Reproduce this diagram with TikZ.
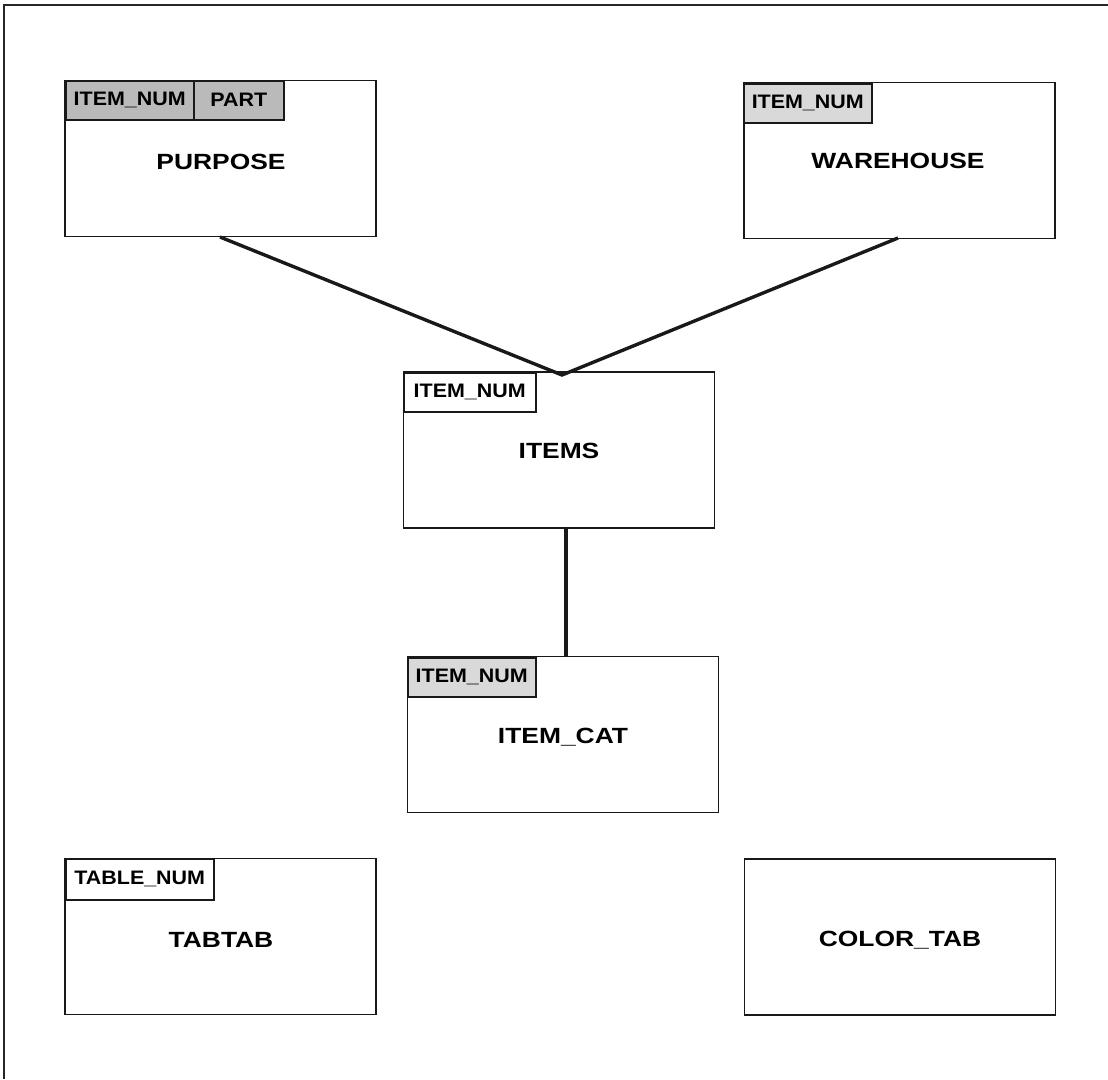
\documentclass[tikz,border=0pt]{standalone}
\usepackage{fontspec}
\setmainfont{Liberation Sans}
\begin{document}
\begin{tikzpicture}[x=1pt,y=-1pt,
  tablebox/.style={draw=black!90, line width=1.8pt, fill=white, rectangle, inner sep=0pt,
    minimum width=#1, minimum height=156pt},
  tablebox/.default=311pt,
  tname/.style={font=\bfseries\fontsize{22}{25}\selectfont, xscale=1.2},
  keycell/.style={draw=black!90, line width=1.5pt, rectangle, inner sep=0pt,
    minimum height=39pt, anchor=north west},
  keytext/.style={font=\bfseries\fontsize{19.5}{22}\selectfont, xscale=1.1},
  link/.style={line width=3.4pt, black!90}]
\useasboundingbox (0,0) rectangle (1108,1079);
% frame
\draw[line width=1.5pt, black!85] (4,1079) -- (4,5) -- (1108,5);

% junction of the two upper links
\coordinate (join) at (562,375);

% tables
\node[tablebox] (purpose) at (220.5,158.5) {};
\node[tablebox] (warehouse) at (899.5,160.5) {};
\node[tablebox] (items) at (559,450) {};
\node[tablebox] (itemcat) at (563,734.5) {};
\node[tablebox] (tabtab) at (220.5,936.5) {};
\node[tablebox] (colortab) at (900,937) {};

% links
\draw[link] (220,237) -- (join) -- (898,238);
\draw[link] (566,528) -- (566,657);

\node[tname] (purposelbl) at (221,162) {PURPOSE};
\node[tname] (warehouselbl) at (898,161) {WAREHOUSE};
\node[tname] (itemslbl) at (559,451) {ITEMS};
\node[tname] (itemcatlbl) at (563,737) {ITEM\_CAT};
\node[tname] (tabtablbl) at (221,940) {TABTAB};
\node[tname] (colortablbl) at (900,940) {COLOR\_TAB};

% key column headers
\node[keycell, fill=black!27, minimum width=128pt] (pk1) at (65,80) {};
\node[keycell, fill=black!27, minimum width=90pt] (pk2) at (193,80) {};
\node[keytext] at (pk1.center) {ITEM\_NUM};
\node[keytext] at (pk2.center) {PART};

\node[keycell, fill=black!15, minimum width=128pt] (wk) at (743,83) {};
\node[keytext] at (wk.center) {ITEM\_NUM};

\node[keycell, fill=white, minimum width=132pt] (ik) at (403,372) {};
\node[keytext] at (ik.center) {ITEM\_NUM};

\node[keycell, fill=black!15, minimum width=128pt] (ck) at (407,657) {};
\node[keytext] at (ck.center) {ITEM\_NUM};

\node[keycell, fill=white, minimum width=148pt, minimum height=41pt] (tk) at (65,858) {};
\node[keytext] at (tk.center) {TABLE\_NUM};
\end{tikzpicture}
\end{document}
